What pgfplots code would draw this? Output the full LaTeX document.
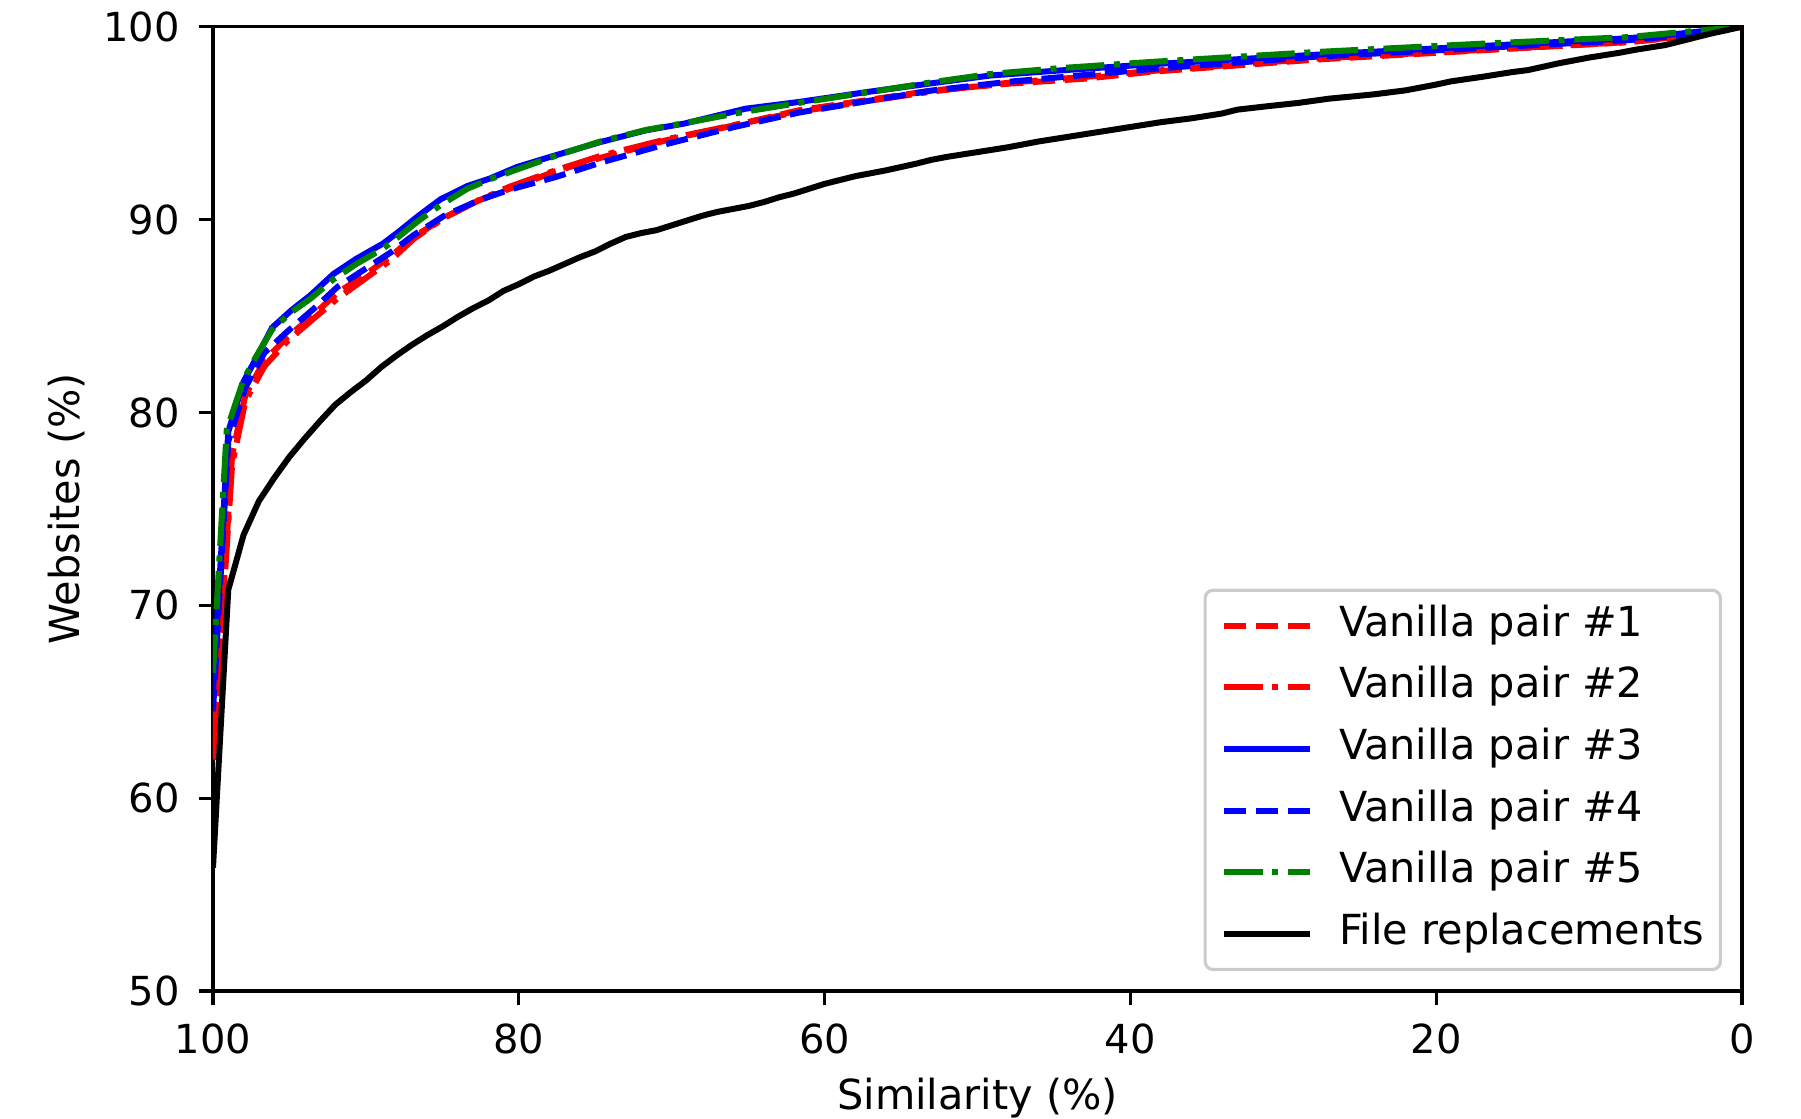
\documentclass[border=0pt]{standalone}
\usepackage{fontspec}
\setmainfont{DejaVu Sans}
\usepackage{pgfplots}
\pgfplotsset{compat=1.18}
\definecolor{mplred}{HTML}{FF0000}
\definecolor{mplblue}{HTML}{0000FF}
\definecolor{mplgreen}{HTML}{008000}
\begin{document}
\begin{tikzpicture}
\path[use as bounding box] (-53.25pt,-31.75pt) rectangle (397pt,247.775pt);
\begin{axis}[
  at={(0,0)}, anchor=south west,
  scale only axis, width=382.25pt, height=241.1pt,
  x dir=reverse, xmin=0, xmax=100, ymin=50, ymax=100,
  xtick={0,20,40,60,80,100}, ytick={50,60,70,80,90,100},
  tick align=outside, xtick pos=left, ytick pos=left,
  major tick length=3.5pt,
  axis line style={line width=0.8pt},
  every tick/.style={black, line width=0.8pt},
  /pgf/number format/assume math mode=true,
  tick label style={font=\fontsize{10}{12}\selectfont},
  xticklabel style={anchor=north, inner sep=0pt, yshift=-4.4pt},
  yticklabel style={anchor=east, inner sep=0pt, xshift=-4.6pt},
  xlabel={Similarity (\%)},
  ylabel={Websites (\%)},
  xlabel style={at={(axis description cs:0.5,0)}, anchor=base, yshift=-29.5pt, inner sep=0pt, font=\fontsize{10.35}{12}\selectfont},
  ylabel style={at={(axis description cs:0,0.5)}, anchor=south, yshift=31.9pt, inner sep=0pt, font=\fontsize{10.35}{12}\selectfont},
  legend cell align=left,
  legend image code/.code={\draw[#1] (0pt,0pt) -- (21.5pt,0pt);},
  legend style={at={(axis description cs:1,0)}, anchor=south east, xshift=-5pt, yshift=5pt,
    draw=black!20, line width=0.8pt, rounded corners=2pt, fill=white, fill opacity=0.8, text opacity=1,
    inner xsep=4pt, inner ysep=3.9pt, row sep=5.4pt, column sep=6.5pt,
    font=\fontsize{10.35}{12}\selectfont,
    nodes={inner sep=0pt, text height=7.6pt, text depth=2.4pt}},
  every axis plot/.append style={line width=1.5pt},
]
% Vanilla pair #1
\addplot[mplred, dash pattern=on 5.55pt off 2.4pt] coordinates {
(100,62.2) (98.75,77.8) (97.88,80.9) (96.63,82.7) (95.13,83.9) (93.37,85.1) (91.87,86.2) (90.12,87.1) (88.37,88.1) (86.87,89.1) (84.87,90.1) (82.61,91.0) (80.61,91.6) (77.61,92.5) (74.66,93.2) (70.42,94.1) (65.91,94.89) (61.66,95.67) (57.16,96.2) (52.9,96.7) (47.9,97.05) (42.9,97.31) (38.7,97.66) (27.8,98.3) (16.97,98.78) (7.46,99.2) (3.94,99.46) (0,100)
};
\addlegendentry{Vanilla pair \#1}
% Vanilla pair #2
\addplot[mplred, dash pattern=on 9.6pt off 2.4pt on 1.5pt off 2.4pt] coordinates {
(100,62.0) (98.75,77.3) (97.88,80.6) (96.63,82.4) (95.13,83.7) (93.37,84.9) (91.87,85.9) (90.12,86.9) (88.37,87.9) (86.87,89.0) (84.87,90.1) (82.61,91.0) (80.61,91.7) (77.61,92.55) (74.66,93.3) (70.42,94.15) (65.91,94.9) (61.66,95.6) (57.16,96.15) (52.9,96.65) (47.9,97.1) (42.9,97.4) (38.7,97.7) (27.8,98.35) (16.97,98.8) (7.46,99.2) (3.94,99.5) (0,100)
};
\addlegendentry{Vanilla pair \#2}
% Vanilla pair #3
\addplot[mplblue] coordinates {
(100,65.5) (99,79.0) (98,81.6) (97.25,82.7) (96.13,84.4) (94.87,85.3) (93.62,86.08) (92.12,87.18) (90.62,87.97) (88.87,88.76) (87.87,89.36) (86.62,90.16) (85.12,91.05) (83.36,91.74) (81.86,92.14) (80.11,92.73) (77.61,93.33) (74.66,94.02) (71.67,94.63) (69.16,94.98) (65.16,95.75) (61.66,96.1) (57.16,96.62) (53.15,97.05) (49.15,97.47) (44.64,97.73) (38.7,98.05) (27.8,98.55) (16.97,99.0) (7.46,99.4) (3.94,99.65) (0,100)
};
\addlegendentry{Vanilla pair \#3}
% Vanilla pair #4
\addplot[mplblue, dash pattern=on 5.55pt off 2.4pt] coordinates {
(100,64.5) (99,78.5) (97.88,81.3) (96.63,83.1) (95.13,84.2) (93.37,85.4) (91.87,86.5) (90.12,87.4) (88.37,88.3) (86.87,89.2) (84.87,90.2) (82.61,91.0) (80.61,91.55) (77.61,92.2) (74.66,92.95) (70.42,93.9) (65.91,94.8) (61.66,95.55) (57.16,96.15) (52.9,96.7) (47.9,97.15) (42.9,97.5) (38.7,97.8) (27.8,98.45) (16.97,98.9) (7.46,99.3) (3.94,99.55) (0,100)
};
\addlegendentry{Vanilla pair \#4}
% Vanilla pair #5
\addplot[mplgreen, dash pattern=on 9.6pt off 2.4pt on 1.5pt off 2.4pt] coordinates {
(100,66.5) (99.1,79.1) (98,81.7) (97.25,82.8) (96.13,84.3) (94.87,85.2) (93.62,85.9) (92.12,86.9) (90.62,87.7) (88.87,88.5) (87.87,89.1) (86.62,89.9) (85.12,90.75) (83.36,91.6) (81.86,92.1) (80.11,92.6) (77.61,93.3) (74.66,94.05) (71.67,94.65) (69.16,95.0) (65.16,95.6) (61.66,96.05) (57.16,96.6) (53.15,97.1) (49.15,97.55) (44.64,97.85) (38.7,98.17) (27.8,98.69) (16.97,99.12) (7.46,99.46) (3.94,99.72) (0,100)
};
\addlegendentry{Vanilla pair \#5}
% File replacements
\addplot[black] coordinates {
(100,56.4) (99,70.8) (98,73.65) (97,75.4) (96,76.6) (95,77.7) (94,78.65) (93,79.55) (92,80.4) (91,81.05) (90,81.65) (89,82.35) (88,82.95) (87,83.5) (86,84.0) (85,84.45) (84,84.95) (83,85.4) (82,85.8) (81,86.3) (80,86.65) (79,87.05) (78,87.35) (77,87.7) (76,88.05) (75,88.35) (74,88.75) (73,89.1) (72,89.3) (71,89.45) (70,89.7) (69,89.95) (68,90.2) (67,90.4) (66,90.55) (65,90.7) (64,90.9) (63,91.15) (62,91.35) (61,91.6) (60,91.85) (58,92.25) (56,92.55) (54,92.9) (53,93.1) (52,93.25) (50,93.5) (48,93.75) (46,94.05) (44,94.3) (42,94.55) (40,94.8) (38,95.05) (36,95.25) (34,95.5) (33,95.7) (31,95.88) (29,96.05) (27,96.27) (25,96.42) (24,96.5) (22,96.7) (20,97.0) (19,97.17) (17,97.4) (15,97.65) (14,97.75) (12,98.1) (10,98.4) (8,98.65) (7,98.8) (5,99.05) (4,99.25) (2,99.65) (1,99.82) (0,100)
};
\addlegendentry{File replacements}
\end{axis}
\end{tikzpicture}
\end{document}
